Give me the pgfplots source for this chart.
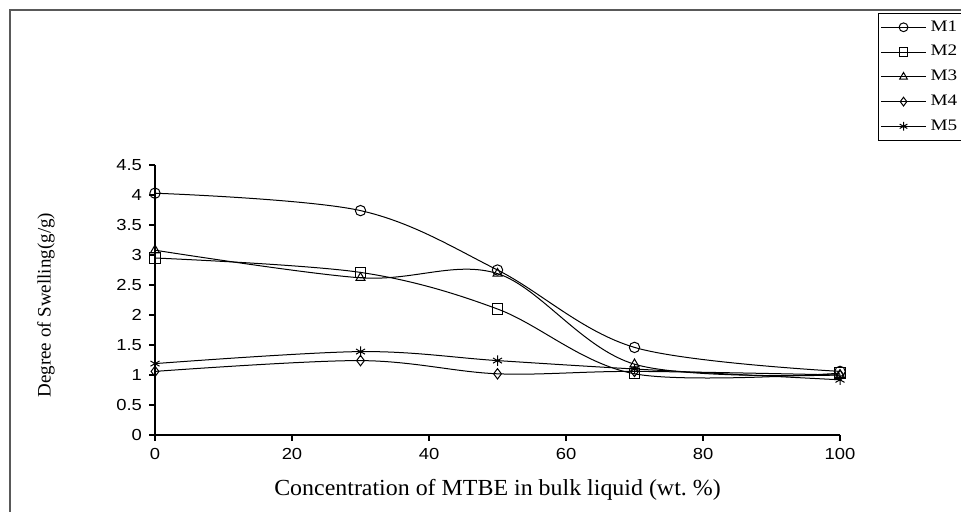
\documentclass[border=0pt]{standalone}
\usepackage{fontspec}
\usepackage{pgfplots}
\pgfplotsset{compat=1.18}
\setmainfont{Liberation Serif}
\newfontfamily\tickfont[FakeStretch=1.15]{Liberation Sans}
\newfontfamily\legfont[FakeStretch=1.2]{Liberation Serif}
\newfontfamily\xlabfont[FakeStretch=1.04]{Liberation Serif}
\begin{document}
\begin{tikzpicture}
\path[use as bounding box] (-77.5pt,-38.5pt) rectangle (403pt,217.5pt);
\draw[black!65, line width=1pt] (-72.5pt,-38.5pt) -- (-72.5pt,212.5pt) -- (403pt,212.5pt);
\begin{axis}[
  at={(0pt,0pt)}, anchor=south west,
  scale only axis, width=342.5pt, height=135pt,
  xmin=0, xmax=100, ymin=0, ymax=4.5,
  axis x line*=bottom, axis y line*=left,
  axis line style={line width=0.6pt},
  xtick={0,20,...,100},
  ytick={0,0.5,...,4.5},
  tick align=outside, major tick length=3pt,
  tick style={line width=0.6pt, black},
  ticklabel style={font=\tickfont\fontsize{8}{9}\selectfont},
  /pgf/number format/assume math mode=true,
  yticklabel style={/pgf/number format/.cd, fixed, precision=1},
  xlabel={\xlabfont\fontsize{11.5}{13}\selectfont Concentration of MTBE in bulk liquid (wt.~\%)},
  xlabel style={at={(axis description cs:0.5,-0.2037)}, anchor=center},
  ylabel={\fontsize{9.5}{11}\selectfont Degree of Swelling(g/g)},
  ylabel style={at={(axis description cs:-0.159,0.481)}, anchor=center},
  every axis plot/.append style={black, line width=0.5pt, smooth, tension=0.55, mark size=2.6pt, mark options={solid, fill=white, line width=0.5pt}},
  legend image code/.code={\draw[mark repeat=2,mark phase=2, mark size=2.2pt] plot coordinates {(0pt,0pt)(11.25pt,0pt)(22.5pt,0pt)};},
  legend style={at={(axis description cs:1.0555,1.5630)}, anchor=north west,
    font=\legfont\fontsize{8}{9}\selectfont, draw=black, line width=0.5pt,
    inner xsep=1pt, inner ysep=1.5pt, row sep=1.6pt,
    /tikz/every even column/.append style={column sep=1pt}},
  legend cell align=left,
  clip=false,
]
\addplot[mark=o] coordinates {(0,4.03) (30,3.74) (50,2.75) (70,1.46) (100,1.06)};
\addlegendentry{M1}
\addplot[mark=square] coordinates {(0,2.95) (30,2.71) (50,2.10) (70,1.02) (100,1.03)};
\addlegendentry{M2}
\addplot[mark=triangle] coordinates {(0,3.08) (30,2.62) (50,2.69) (70,1.18) (100,1.00)};
\addlegendentry{M3}
\addplot[mark=diamond] coordinates {(0,1.06) (30,1.24) (50,1.02) (70,1.06) (100,1.00)};
\addlegendentry{M4}
\addplot[mark=asterisk] coordinates {(0,1.19) (30,1.39) (50,1.24) (70,1.10) (100,0.92)};
\addlegendentry{M5}
\end{axis}
\end{tikzpicture}
\end{document}
